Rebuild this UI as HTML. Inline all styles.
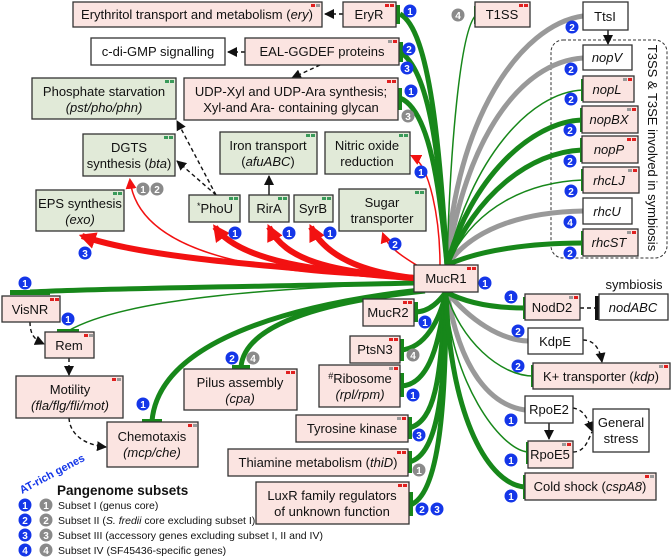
<!DOCTYPE html>
<html><head><meta charset="utf-8"><style>
html,body{margin:0;padding:0;background:#fff;}
svg{display:block;font-family:"Liberation Sans",Arial,sans-serif;}
.p{fill:#fbe4e1;stroke:#333;stroke-width:1.3}
.g{fill:#e1ead8;stroke:#333;stroke-width:1.3}
.w{fill:#fff;stroke:#333;stroke-width:1.3}
.t{font-size:13px;fill:#111;text-anchor:middle}
.gr{fill:none;stroke:#17871a;stroke-linecap:butt}
.rd{fill:none;stroke:#f21111}
.gy{fill:none;stroke:#999}
.bk{fill:none;stroke:#111;stroke-width:1.4;stroke-dasharray:4 3}
.bs{fill:none;stroke:#111;stroke-width:1.4}
.bar{fill:#17871a}
.bb{fill:#1436e8}.bg{fill:#8a8a8a}
.bn{font-size:10px;font-weight:bold;fill:#fff;text-anchor:middle}
.lg{font-size:10.5px;fill:#111}
circle{r:6.5}
</style></head><body>
<svg width="672" height="560" viewBox="0 0 672 560" xmlns="http://www.w3.org/2000/svg">
<defs>
<marker id="ar" viewBox="0 0 10 10" refX="8" refY="5" markerWidth="17" markerHeight="17" markerUnits="userSpaceOnUse" orient="auto"><path d="M0,0 L10,5 L0,10 z" fill="#f21111"/></marker>
<marker id="as" viewBox="0 0 10 10" refX="8" refY="5" markerWidth="11" markerHeight="11" markerUnits="userSpaceOnUse" orient="auto"><path d="M0,0 L10,5 L0,10 z" fill="#f21111"/></marker>
<marker id="ab" viewBox="0 0 10 10" refX="9" refY="5" markerWidth="10" markerHeight="10" markerUnits="userSpaceOnUse" orient="auto"><path d="M0,0 L10,5 L0,10 z" fill="#111"/></marker>
</defs>

<rect x="551" y="40" width="116" height="218" rx="12" fill="none" stroke="#333" stroke-dasharray="3 2"/>
<text transform="translate(648,148) rotate(90)" font-size="13" text-anchor="middle" fill="#111">T3SS &amp; T3SE involved in symbiosis</text>

<g class="gy" stroke-width="5">
<path d="M447,265 C455,120 520,25 583,16"/>
<path d="M447,265 C465,140 520,62 583,58"/>
<path d="M447,265 C475,225 530,212 583,211"/>
<path d="M447,292 C470,320 500,340 528,341"/>
<path d="M447,292 C460,370 490,405 525,410"/>
</g>
<g class="gr">
<path d="M447,265 C440,150 430,30 400,14" stroke-width="5"/>
<path d="M447,265 C440,160 430,70 400,52" stroke-width="5"/>
<path d="M447,265 C440,190 430,110 400,98" stroke-width="5"/>
<path d="M447,265 C450,150 460,30 476,15" stroke-width="1.5"/>
<path d="M447,265 C470,160 530,92 583,90" stroke-width="1.5"/>
<path d="M447,265 C470,180 530,122 582,120" stroke-width="5"/>
<path d="M447,265 C475,195 530,152 582,150" stroke-width="5"/>
<path d="M447,265 C475,205 530,182 583,180" stroke-width="1.5"/>
<path d="M447,265 C480,250 530,243 583,243" stroke-width="5"/>
<path d="M446,292 C440,300 430,312 415,312" stroke-width="5"/>
<path d="M446,292 C440,320 425,348 401,350" stroke-width="5"/>
<path d="M446,292 C440,340 430,385 401,386" stroke-width="5"/>
<path d="M446,292 C440,360 440,420 409,428" stroke-width="5"/>
<path d="M446,292 C445,380 440,455 409,462" stroke-width="5"/>
<path d="M446,292 C446,400 440,495 410,505" stroke-width="5"/>
<path d="M446,292 C470,305 500,308 525,308" stroke-width="5"/>
<path d="M446,292 C460,340 500,376 533,376" stroke-width="1.5"/>
<path d="M446,292 C450,380 500,450 528,452" stroke-width="1.5"/>
<path d="M446,292 C450,420 490,485 525,487" stroke-width="5"/>
<path d="M414,283 C300,286 100,288 30,292" stroke-width="5"/>
<path d="M414,283 C300,288 130,295 68,331" stroke-width="1.5"/>
<path d="M420,290 C330,300 160,330 152,421" stroke-width="5"/>
<path d="M425,291 C340,300 245,320 241,367" stroke-width="5"/>
</g>
<g class="bar">
<rect x="396" y="5" width="4" height="19"/><rect x="399" y="42" width="4" height="20"/><rect x="398" y="88" width="4" height="22"/>
<rect x="474" y="6" width="3" height="18"/>
<rect x="581" y="79" width="4" height="22"/><rect x="580" y="108" width="5" height="24"/><rect x="580" y="138" width="5" height="24"/>
<rect x="581" y="169" width="4" height="22"/><rect x="581" y="231" width="4" height="24"/>
<rect x="413" y="302" width="5" height="20"/><rect x="399" y="339" width="5" height="22"/><rect x="399" y="373" width="5" height="24"/>
<rect x="407" y="417" width="5" height="22"/><rect x="407" y="451" width="5" height="22"/><rect x="408" y="492" width="5" height="24"/>
<rect x="523" y="297" width="5" height="22"/><rect x="531" y="365" width="5" height="22"/><rect x="526" y="442" width="5" height="22"/><rect x="523" y="475" width="5" height="24"/>
<rect x="10" y="290" width="40" height="5"/><rect x="57" y="329" width="22" height="4"/><rect x="142" y="419" width="20" height="5"/><rect x="232" y="365" width="18" height="5"/>
</g>

<g class="rd">
<path d="M414,278 C300,268 150,260 82,236" stroke-width="6" marker-end="url(#ar)"/>
<path d="M414,278 C300,275 140,265 130,180" stroke-width="1.5" marker-end="url(#as)"/>
<path d="M414,278 C320,272 240,262 215,227" stroke-width="6" marker-end="url(#ar)"/>
<path d="M414,278 C330,272 285,260 269,227" stroke-width="6" marker-end="url(#ar)"/>
<path d="M414,278 C360,272 325,255 311,227" stroke-width="6" marker-end="url(#ar)"/>
<path d="M418,266 C405,258 388,248 383,234" stroke-width="1.5" marker-end="url(#as)"/>
<path d="M440,265 C440,220 430,165 412,156" stroke-width="1.5" marker-end="url(#as)"/>
</g>

<path class="bk" d="M343,14 L325,14" marker-end="url(#ab)"/>
<path class="bk" d="M245,52 L228,52" marker-end="url(#ab)"/>
<path class="bk" d="M320,65 L292,78" marker-end="url(#ab)"/>
<path class="bk" d="M216,195 L177,121" marker-end="url(#ab)"/>
<path class="bk" d="M216,195 L177,161" marker-end="url(#ab)"/>
<path class="bs" d="M269,195 L269,176" marker-end="url(#ab)"/>
<path class="bs" d="M608,30 L608,44" marker-end="url(#ab)"/>
<path class="bk" d="M580,308 L596,308"/><rect x="595" y="296" width="4" height="24" fill="#111"/>
<path class="bk" d="M583,340 C595,340 600,350 602,362" marker-end="url(#ab)"/>
<path class="bs" d="M549,423 L549,439" marker-end="url(#ab)"/>
<path class="bk" d="M573,408 C585,410 588,420 592,431" marker-end="url(#ab)"/>
<path class="bk" d="M573,452 C585,452 588,440 592,432"/>
<path class="bk" d="M30,322 C30,335 35,340 44,344" marker-end="url(#ab)"/>
<path class="bk" d="M69,358 L69,375" marker-end="url(#ab)"/>
<path class="bk" d="M69,418 C70,435 85,445 106,447" marker-end="url(#ab)"/>

<rect class="p" x="73" y="2" width="249" height="25"/><text class="t" x="197" y="19">Erythritol transport and metabolism (<tspan font-style="italic">ery</tspan>)</text>
<rect class="p" x="343" y="2" width="53" height="25"/><text class="t" x="369" y="19">EryR</text>
<rect class="p" x="475" y="2" width="55" height="25"/><text class="t" x="502" y="19">T1SS</text>
<rect class="w" x="583" y="2" width="45" height="28"/><text class="t" x="605" y="21">TtsI</text>
<rect class="w" x="91" y="38" width="134" height="27"/><text class="t" x="158" y="56">c-di-GMP signalling</text>
<rect class="p" x="245" y="38" width="154" height="27"/><text class="t" x="322" y="56">EAL-GGDEF proteins</text>
<rect class="p" x="184" y="78" width="214" height="42"/><text class="t" x="291" y="96">UDP-Xyl and UDP-Ara synthesis;</text><text class="t" x="291" y="112">Xyl-and Ara- containing glycan</text>
<rect class="g" x="32" y="78" width="144" height="41"/><text class="t" x="104" y="96">Phosphate starvation</text><text class="t" x="104" y="112" font-style="italic">(pst/pho/phn)</text>
<rect class="g" x="83" y="134" width="92" height="42"/><text class="t" x="129" y="152">DGTS</text><text class="t" x="129" y="168">synthesis (<tspan font-style="italic">bta</tspan>)</text>
<rect class="g" x="220" y="132" width="97" height="42"/><text class="t" x="268" y="150">Iron transport</text><text class="t" x="268" y="166">(<tspan font-style="italic">afuABC</tspan>)</text>
<rect class="g" x="325" y="132" width="85" height="42"/><text class="t" x="367" y="150">Nitric oxide</text><text class="t" x="367" y="166">reduction</text>
<rect class="g" x="36" y="190" width="88" height="41"/><text class="t" x="80" y="208">EPS synthesis</text><text class="t" x="80" y="224" font-style="italic">(exo)</text>
<rect class="g" x="189" y="195" width="51" height="27"/><text class="t" x="215" y="213"><tspan font-size="9" dy="-4">*</tspan><tspan dy="4">PhoU</tspan></text>
<rect class="g" x="249" y="195" width="40" height="27"/><text class="t" x="269" y="213">RirA</text>
<rect class="g" x="294" y="195" width="39" height="27"/><text class="t" x="313" y="213">SyrB</text>
<rect class="g" x="339" y="189" width="87" height="42"/><text class="t" x="382" y="207">Sugar</text><text class="t" x="382" y="223">transporter</text>
<rect class="w" x="583" y="45" width="49" height="25"/><text class="t" x="607" y="62" font-style="italic">nopV</text>
<rect class="p" x="583" y="76" width="51" height="26"/><text class="t" x="607" y="94" font-style="italic">nopL</text>
<rect class="p" x="582" y="106" width="56" height="27"/><text class="t" x="609" y="124" font-style="italic">nopBX</text>
<rect class="p" x="582" y="136" width="56" height="27"/><text class="t" x="609" y="154" font-style="italic">nopP</text>
<rect class="p" x="583" y="167" width="56" height="26"/><text class="t" x="609" y="185" font-style="italic">rhcLJ</text>
<rect class="w" x="583" y="198" width="49" height="26"/><text class="t" x="607" y="216" font-style="italic">rhcU</text>
<rect class="p" x="583" y="229" width="55" height="27"/><text class="t" x="609" y="247" font-style="italic">rhcST</text>
<rect class="p" x="414" y="265" width="64" height="27"/><text class="t" x="446" y="283">MucR1</text>
<rect class="p" x="2" y="296" width="58" height="26"/><text class="t" x="30" y="314">VisNR</text>
<rect class="p" x="45" y="332" width="49" height="26"/><text class="t" x="69" y="350">Rem</text>
<rect class="p" x="16" y="376" width="107" height="42"/><text class="t" x="70" y="394">Motility</text><text class="t" x="70" y="410" font-style="italic">(fla/flg/fli/mot)</text>
<rect class="p" x="107" y="422" width="91" height="45"/><text class="t" x="152" y="441">Chemotaxis</text><text class="t" x="152" y="457" font-style="italic">(mcp/che)</text>
<rect class="p" x="184" y="369" width="113" height="41"/><text class="t" x="240" y="387">Pilus assembly</text><text class="t" x="240" y="403" font-style="italic">(cpa)</text>
<rect class="p" x="363" y="299" width="51" height="27"/><text class="t" x="388" y="317">MucR2</text>
<rect class="p" x="350" y="336" width="50" height="27"/><text class="t" x="375" y="354">PtsN3</text>
<rect class="p" x="319" y="365" width="81" height="42"/><text class="t" x="360" y="383"><tspan font-size="9" dy="-4">#</tspan><tspan dy="4">Ribosome</tspan></text><text class="t" x="360" y="399" font-style="italic">(rpl/rpm)</text>
<rect class="p" x="296" y="415" width="112" height="27"/><text class="t" x="352" y="433">Tyrosine kinase</text>
<rect class="p" x="228" y="449" width="180" height="27"/><text class="t" x="318" y="467">Thiamine metabolism (<tspan font-style="italic">thiD</tspan>)</text>
<rect class="p" x="256" y="482" width="153" height="42"/><text class="t" x="332" y="500">LuxR family regulators</text><text class="t" x="332" y="516">of unknown function</text>
<rect class="p" x="525" y="294" width="55" height="26"/><text class="t" x="552" y="312">NodD2</text>
<text class="t" x="634" y="289">symbiosis</text>
<rect class="w" x="599" y="294" width="69" height="26"/><text class="t" x="633" y="312" font-style="italic">nodABC</text>
<rect class="w" x="528" y="328" width="55" height="26"/><text class="t" x="555" y="346">KdpE</text>
<rect class="p" x="533" y="363" width="137" height="26"/><text class="t" x="601" y="381">K+ transporter (<tspan font-style="italic">kdp</tspan>)</text>
<rect class="w" x="525" y="396" width="48" height="27"/><text class="t" x="549" y="414">RpoE2</text>
<rect class="p" x="528" y="441" width="45" height="27"/><text class="t" x="550" y="459">RpoE5</text>
<rect class="w" x="593" y="409" width="56" height="43"/><text class="t" x="621" y="427">General</text><text class="t" x="621" y="443">stress</text>
<rect class="p" x="525" y="473" width="131" height="27"/><text class="t" x="590" y="491">Cold shock (<tspan font-style="italic">cspA8</tspan>)</text>

<g>
<rect x="311" y="4" width="4" height="3" fill="#e02020"/><rect x="316" y="4" width="4" height="3" fill="#999"/>
<rect x="385" y="4" width="4" height="3" fill="#e02020"/><rect x="390" y="4" width="4" height="3" fill="#e02020"/>
<rect x="519" y="4" width="4" height="3" fill="#e02020"/><rect x="524" y="4" width="4" height="3" fill="#e02020"/>
<rect x="388" y="40" width="4" height="3" fill="#999"/><rect x="393" y="40" width="4" height="3" fill="#e02020"/>
<rect x="387" y="80" width="4" height="3" fill="#e02020"/><rect x="392" y="80" width="4" height="3" fill="#e02020"/>
<rect x="165" y="80" width="4" height="3" fill="#3a9a5a"/><rect x="170" y="80" width="4" height="3" fill="#3a9a5a"/>
<rect x="164" y="136" width="4" height="3" fill="#3a9a5a"/><rect x="169" y="136" width="4" height="3" fill="#3a9a5a"/>
<rect x="306" y="134" width="4" height="3" fill="#3a9a5a"/><rect x="311" y="134" width="4" height="3" fill="#3a9a5a"/>
<rect x="399" y="134" width="4" height="3" fill="#3a9a5a"/><rect x="404" y="134" width="4" height="3" fill="#3a9a5a"/>
<rect x="113" y="192" width="4" height="3" fill="#3a9a5a"/><rect x="118" y="192" width="4" height="3" fill="#3a9a5a"/>
<rect x="229" y="197" width="4" height="3" fill="#3a9a5a"/><rect x="234" y="197" width="4" height="3" fill="#3a9a5a"/>
<rect x="278" y="197" width="4" height="3" fill="#3a9a5a"/><rect x="283" y="197" width="4" height="3" fill="#3a9a5a"/>
<rect x="322" y="197" width="4" height="3" fill="#3a9a5a"/><rect x="327" y="197" width="4" height="3" fill="#3a9a5a"/>
<rect x="415" y="191" width="4" height="3" fill="#3a9a5a"/><rect x="420" y="191" width="4" height="3" fill="#3a9a5a"/>
<rect x="623" y="78" width="4" height="3" fill="#999"/><rect x="628" y="78" width="4" height="3" fill="#e02020"/>
<rect x="627" y="108" width="4" height="3" fill="#999"/><rect x="632" y="108" width="4" height="3" fill="#e02020"/>
<rect x="627" y="138" width="4" height="3" fill="#e02020"/><rect x="632" y="138" width="4" height="3" fill="#e02020"/>
<rect x="628" y="169" width="4" height="3" fill="#999"/><rect x="633" y="169" width="4" height="3" fill="#e02020"/>
<rect x="627" y="231" width="4" height="3" fill="#999"/><rect x="632" y="231" width="4" height="3" fill="#e02020"/>
<rect x="467" y="267" width="4" height="3" fill="#e02020"/><rect x="472" y="267" width="4" height="3" fill="#e02020"/>
<rect x="50" y="298" width="4" height="3" fill="#e02020"/><rect x="55" y="298" width="4" height="3" fill="#e02020"/>
<rect x="84" y="334" width="4" height="3" fill="#e02020"/><rect x="89" y="334" width="4" height="3" fill="#999"/>
<rect x="112" y="378" width="4" height="3" fill="#e02020"/><rect x="117" y="378" width="4" height="3" fill="#999"/>
<rect x="188" y="424" width="4" height="3" fill="#e02020"/><rect x="193" y="424" width="4" height="3" fill="#999"/>
<rect x="286" y="371" width="4" height="3" fill="#e02020"/><rect x="291" y="371" width="4" height="3" fill="#e02020"/>
<rect x="403" y="301" width="4" height="3" fill="#e02020"/><rect x="408" y="301" width="4" height="3" fill="#e02020"/>
<rect x="389" y="338" width="4" height="3" fill="#e02020"/><rect x="394" y="338" width="4" height="3" fill="#e02020"/>
<rect x="389" y="367" width="4" height="3" fill="#999"/><rect x="394" y="367" width="4" height="3" fill="#e02020"/>
<rect x="397" y="417" width="4" height="3" fill="#999"/><rect x="402" y="417" width="4" height="3" fill="#e02020"/>
<rect x="397" y="451" width="4" height="3" fill="#e02020"/><rect x="402" y="451" width="4" height="3" fill="#e02020"/>
<rect x="398" y="484" width="4" height="3" fill="#e02020"/><rect x="403" y="484" width="4" height="3" fill="#e02020"/>
<rect x="569" y="296" width="4" height="3" fill="#999"/><rect x="574" y="296" width="4" height="3" fill="#e02020"/>
<rect x="659" y="365" width="4" height="3" fill="#999"/><rect x="664" y="365" width="4" height="3" fill="#e02020"/>
<rect x="562" y="443" width="4" height="3" fill="#999"/><rect x="567" y="443" width="4" height="3" fill="#e02020"/>
<rect x="645" y="475" width="4" height="3" fill="#e02020"/><rect x="650" y="475" width="4" height="3" fill="#999"/>
</g>

<g>
<circle class="bb" cx="410" cy="11" r="6.5"/><text class="bn" x="410" y="15">1</text>
<circle class="bg" cx="458" cy="15" r="6.5"/><text class="bn" x="458" y="19">4</text>
<circle class="bb" cx="572" cy="27" r="6.5"/><text class="bn" x="572" y="31">2</text>
<circle class="bb" cx="409" cy="49" r="6.5"/><text class="bn" x="409" y="53">2</text>
<circle class="bb" cx="407" cy="68" r="6.5"/><text class="bn" x="407" y="72">3</text>
<circle class="bb" cx="411" cy="91" r="6.5"/><text class="bn" x="411" y="95">1</text>
<circle class="bg" cx="408" cy="116" r="6.5"/><text class="bn" x="408" y="120">3</text>
<circle class="bb" cx="571" cy="69" r="6.5"/><text class="bn" x="571" y="73">2</text>
<circle class="bb" cx="571" cy="99" r="6.5"/><text class="bn" x="571" y="103">2</text>
<circle class="bb" cx="570" cy="130" r="6.5"/><text class="bn" x="570" y="134">2</text>
<circle class="bb" cx="570" cy="161" r="6.5"/><text class="bn" x="570" y="165">2</text>
<circle class="bb" cx="571" cy="191" r="6.5"/><text class="bn" x="571" y="195">2</text>
<circle class="bb" cx="570" cy="222" r="6.5"/><text class="bn" x="570" y="226">4</text>
<circle class="bb" cx="570" cy="253" r="6.5"/><text class="bn" x="570" y="257">2</text>
<circle class="bb" cx="421" cy="172" r="6.5"/><text class="bn" x="421" y="176">1</text>
<circle class="bb" cx="395" cy="244" r="6.5"/><text class="bn" x="395" y="248">2</text>
<circle class="bb" cx="235" cy="233" r="6.5"/><text class="bn" x="235" y="237">1</text>
<circle class="bb" cx="289" cy="233" r="6.5"/><text class="bn" x="289" y="237">1</text>
<circle class="bb" cx="330" cy="233" r="6.5"/><text class="bn" x="330" y="237">1</text>
<circle class="bb" cx="85" cy="253" r="6.5"/><text class="bn" x="85" y="257">3</text>
<circle class="bg" cx="143" cy="189" r="6.5"/><text class="bn" x="143" y="193">1</text>
<circle class="bg" cx="157" cy="189" r="6.5"/><text class="bn" x="157" y="193">2</text>
<circle class="bb" cx="485" cy="283" r="6.5"/><text class="bn" x="485" y="287">1</text>
<circle class="bb" cx="25" cy="283" r="6.5"/><text class="bn" x="25" y="287">1</text>
<circle class="bb" cx="68" cy="319" r="6.5"/><text class="bn" x="68" y="323">1</text>
<circle class="bb" cx="143" cy="404" r="6.5"/><text class="bn" x="143" y="408">1</text>
<circle class="bb" cx="232" cy="358" r="6.5"/><text class="bn" x="232" y="362">2</text>
<circle class="bg" cx="253" cy="358" r="6.5"/><text class="bn" x="253" y="362">4</text>
<circle class="bb" cx="425" cy="322" r="6.5"/><text class="bn" x="425" y="326">1</text>
<circle class="bg" cx="413" cy="355" r="6.5"/><text class="bn" x="413" y="359">4</text>
<circle class="bb" cx="413" cy="395" r="6.5"/><text class="bn" x="413" y="399">1</text>
<circle class="bb" cx="419" cy="435" r="6.5"/><text class="bn" x="419" y="439">3</text>
<circle class="bg" cx="419" cy="470" r="6.5"/><text class="bn" x="419" y="474">1</text>
<circle class="bb" cx="422" cy="509" r="6.5"/><text class="bn" x="422" y="513">2</text>
<circle class="bb" cx="437" cy="509" r="6.5"/><text class="bn" x="437" y="513">3</text>
<circle class="bb" cx="511" cy="297" r="6.5"/><text class="bn" x="511" y="301">1</text>
<circle class="bb" cx="518" cy="331" r="6.5"/><text class="bn" x="518" y="335">2</text>
<circle class="bb" cx="518" cy="366" r="6.5"/><text class="bn" x="518" y="370">2</text>
<circle class="bb" cx="511" cy="420" r="6.5"/><text class="bn" x="511" y="424">1</text>
<circle class="bb" cx="511" cy="460" r="6.5"/><text class="bn" x="511" y="464">1</text>
<circle class="bb" cx="511" cy="496" r="6.5"/><text class="bn" x="511" y="500">1</text>
</g>

<text transform="translate(22,494) rotate(-28)" font-size="11" font-weight="600" fill="#1436e8">AT-rich genes</text>
<text x="57" y="495" font-size="13.5" font-weight="bold" fill="#111">Pangenome subsets</text>
<g>
<circle class="bb" cx="25" cy="505" r="6.5"/><text class="bn" x="25" y="509">1</text><circle class="bg" cx="46" cy="505" r="6.5"/><text class="bn" x="46" y="509">1</text>
<text class="lg" x="58" y="509">Subset I (genus core)</text>
<circle class="bb" cx="25" cy="520" r="6.5"/><text class="bn" x="25" y="524">2</text><circle class="bg" cx="46" cy="520" r="6.5"/><text class="bn" x="46" y="524">2</text>
<text class="lg" x="58" y="524">Subset II (<tspan font-style="italic">S. fredii</tspan> core excluding subset I)</text>
<circle class="bb" cx="25" cy="535" r="6.5"/><text class="bn" x="25" y="539">3</text><circle class="bg" cx="46" cy="535" r="6.5"/><text class="bn" x="46" y="539">3</text>
<text class="lg" x="58" y="539">Subset III (accessory genes excluding subset I, II and IV)</text>
<circle class="bb" cx="25" cy="550" r="6.5"/><text class="bn" x="25" y="554">4</text><circle class="bg" cx="46" cy="550" r="6.5"/><text class="bn" x="46" y="554">4</text>
<text class="lg" x="58" y="554">Subset IV (SF45436-specific genes)</text>
</g>
</svg>
</body></html>
